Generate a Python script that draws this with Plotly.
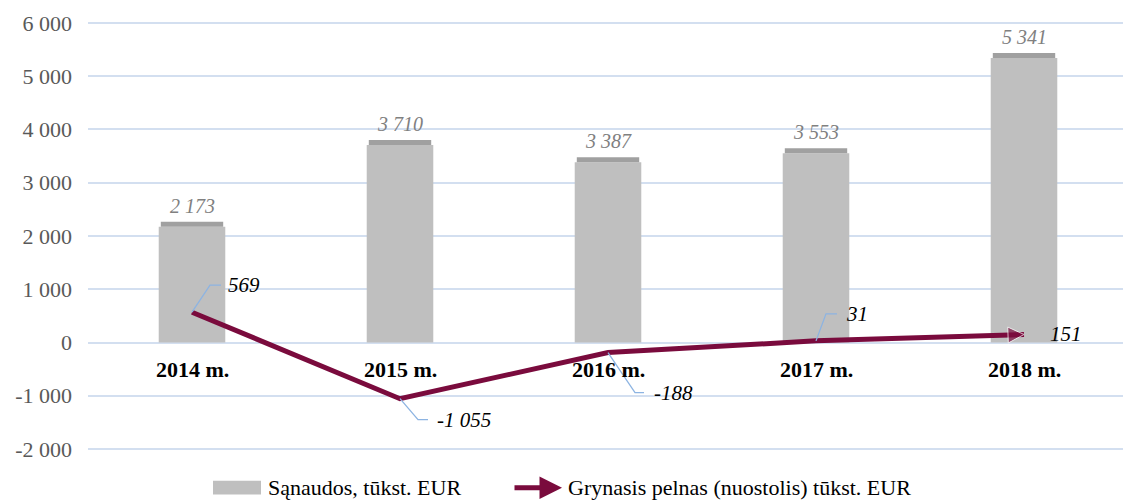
import plotly.graph_objects as go

categories = ["2014 m.", "2015 m.", "2016 m.", "2017 m.", "2018 m."]
costs = [2173, 3710, 3387, 3553, 5341]
profit = [569, -1055, -188, 31, 151]
tick_vals = [-2000, -1000, 0, 1000, 2000, 3000, 4000, 5000, 6000]
tick_text = ["-2 000", "-1 000", "0", "1 000", "2 000", "3 000", "4 000", "5 000", "6 000"]
cost_name = "Sąnaudos, tūkst. EUR"
profit_name = "Grynasis pelnas (nuostolis) tūkst. EUR"

def fmt(v):
    s = f"{abs(v):,}".replace(",", " ")
    return ("-" if v < 0 else "") + s

# label leader offsets in pixels (style): (elbow dx, elbow dy, end dx, text dx)
leader = [(18, 27, 29, 34), (18, -21, 28, 35), (27, -40, 36, 44), (10, 27, 21, 28), (None, 0, None, 24)]

xs = list(range(len(categories)))
SERIF = "Liberation Serif"
BAR_W = 0.32
MAROON = "#7A0B3D"
OFF = 8  # page body margin
W, H = 1131 - OFF, 502 - OFF
L, R, T = 88 - OFF, 3, 17 - OFF
B = H - (451 - OFF)
PW, PH = W - L - R, H - T - B

def px(xp):  # page pixel -> paper fraction
    return (xp - OFF - L) / PW

def py(yp):
    return (H - B - (yp - OFF)) / PH

fig = go.Figure()
fig.add_trace(go.Bar(
    x=xs, y=costs, width=BAR_W, name=cost_name, showlegend=False,
    marker=dict(color="#BFBFBF", line=dict(width=0)),
))
fig.add_trace(go.Scatter(
    x=xs, y=profit, mode="lines+markers", showlegend=False, name=profit_name,
    line=dict(color=MAROON, width=5),
    marker=dict(symbol=["circle"] * (len(xs) - 1) + ["arrow-right"],
                size=[0] * (len(xs) - 1) + [16], color=MAROON, angle=-2),
    cliponaxis=False,
))

shapes = []
annotations = []
for i, (c, v) in enumerate(zip(costs, profit)):
    # darker top face of bars
    shapes.append(dict(type="rect", xref="x", yref="y", x0=i - BAR_W / 2 + 0.01, x1=i + BAR_W / 2 - 0.01,
                       ysizemode="pixel", yanchor=c, y0=0, y1=5,
                       fillcolor="#A0A0A0", line=dict(width=0), layer="above"))
    annotations.append(dict(x=i, y=c, xref="x", yref="y", text=fmt(c), showarrow=False,
                            xanchor="center", yanchor="middle", yshift=21,
                            font=dict(family=SERIF, size=20, color="#808080", style="italic")))
    ex, ey, endx, tdx = leader[i]
    if ex is not None:
        shapes.append(dict(type="path", xref="x", yref="y",
                           xsizemode="pixel", ysizemode="pixel", xanchor=i, yanchor=v,
                           path=f"M0,0 L{ex},{ey} L{endx},{ey}",
                           line=dict(color="#8DB4E2", width=1.3), layer="above"))
    annotations.append(dict(x=i, y=v, xref="x", yref="y", text=fmt(v), showarrow=False,
                            xanchor="left", yanchor="middle", xshift=tdx, yshift=ey,
                            font=dict(family=SERIF, size=21, color="#000000", style="italic")))
    annotations.append(dict(x=i, y=0, xref="x", yref="y", text=f"<b>{categories[i]}</b>",
                            showarrow=False, xanchor="center", yanchor="middle", yshift=-27,
                            font=dict(family=SERIF, size=22, color="#000000")))

# manual legend
shapes.append(dict(type="rect", xref="paper", yref="paper", x0=px(213), x1=px(261),
                   y0=py(495), y1=py(481), fillcolor="#BFBFBF", line=dict(width=0)))
annotations.append(dict(x=px(266), y=py(488), xref="paper", yref="paper", text=cost_name,
                        showarrow=False, xanchor="left", yanchor="middle",
                        font=dict(family=SERIF, size=22, color="#000000")))
annotations.append(dict(x=px(562), y=py(488), xref="paper", yref="paper", text="",
                        ax=-49, ay=0, axref="pixel", ayref="pixel",
                        showarrow=True, arrowhead=2, arrowsize=0.9, arrowwidth=5,
                        arrowcolor=MAROON))
annotations.append(dict(x=px(566), y=py(488), xref="paper", yref="paper", text=profit_name,
                        showarrow=False, xanchor="left", yanchor="middle",
                        font=dict(family=SERIF, size=22, color="#000000")))

fig.update_layout(
    width=W, height=H,
    margin=dict(l=L, r=R, t=T, b=B),
    paper_bgcolor="white", plot_bgcolor="white",
    showlegend=False,
    xaxis=dict(range=[-0.5, len(xs) - 0.5], showticklabels=False, showgrid=False,
               zeroline=False, showline=False, fixedrange=True),
    yaxis=dict(range=[-2037, 6037], tickvals=tick_vals, ticktext=tick_text,
               showgrid=True, gridcolor="#D3DFF0", gridwidth=1.5, zeroline=False,
               showline=False, ticks="", ticklabelstandoff=15, ticklabeloverflow="allow",
               tickfont=dict(family=SERIF, size=22, color="#595959")),
    shapes=shapes, annotations=annotations,
)

fig.write_html("out.html")
